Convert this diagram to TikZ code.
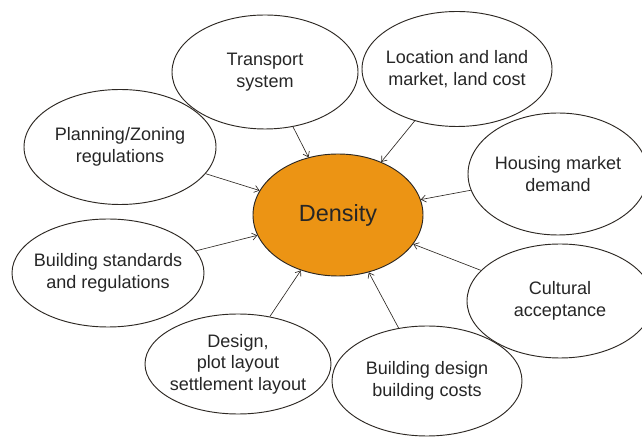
\documentclass[tikz,border=0pt]{standalone}
\usepackage{fontspec}
\setmainfont{Liberation Sans}
\usepackage{xcolor}
\usepackage{tikz}
\usetikzlibrary{shapes.geometric, arrows.meta}

\definecolor{densityorange}{RGB}{236,148,20}
\definecolor{inkgray}{RGB}{45,40,35}

\begin{document}
\begin{tikzpicture}[>={Straight Barb[length=4pt,width=6pt]},
  factor/.style={ellipse, draw=inkgray, line width=0.8pt, fill=white, inner sep=0pt},
  factortext/.style={align=center, text=black!85, font=\fontsize{15.4}{18.3}\selectfont},
  link/.style={->, draw=inkgray, line width=0.55pt}]
  \useasboundingbox (0,0) rectangle (19.26,13.11);
  % Centre
  \node[factor, fill=densityorange, minimum width=5.1cm, minimum height=3.66cm,
    font=\fontsize{20}{24}\selectfont, text=black!85] (density) at (10.14,6.66) {Density};
  % Surrounding factors (fixed sizes, text set as centred labels)
  \node[factor, minimum width=5.58cm, minimum height=3.42cm,
    label={[factortext]center:{Transport\\system}}] (transport) at (7.95,10.95) {};
  \node[factor, minimum width=5.7cm, minimum height=3.45cm,
    label={[factortext]center:{Location and land\\market, land cost}}] (location) at (13.71,11.04) {};
  \node[factor, minimum width=5.76cm, minimum height=3.45cm,
    label={[factortext]center:{Planning/Zoning\\regulations}}] (planning) at (3.6,8.7) {};
  \node[factor, minimum width=5.4cm, minimum height=3.66cm,
    label={[factortext]center:{Housing market\\demand}}] (housing) at (16.74,7.89) {};
  \node[factor, minimum width=5.76cm, minimum height=3.24cm,
    label={[factortext]center:{Building standards\\and regulations}}] (standards) at (3.24,4.92) {};
  \node[factor, minimum width=5.58cm, minimum height=3.42cm,
    label={[factortext]center:{Cultural\\acceptance}}] (cultural) at (16.8,4.08) {};
  \node[factor, minimum width=5.58cm, minimum height=3.0cm,
    label={[factortext]center:{Design,\\plot layout\\settlement layout}}] (layout) at (7.14,2.19) {};
  \node[factor, minimum width=5.7cm, minimum height=3.3cm,
    label={[factortext]center:{Building design\\building costs}}] (costs) at (12.81,1.68) {};
  % Influences
  \draw[link] (transport) -- (density);
  \draw[link] (location) -- (density);
  \draw[link] (planning) -- (density);
  \draw[link] (housing) -- (density);
  \draw[link] (standards) -- (density);
  \draw[link] (cultural) -- (density);
  \draw[link] (layout) -- (density);
  \draw[link] (costs) -- (density);
\end{tikzpicture}
\end{document}
